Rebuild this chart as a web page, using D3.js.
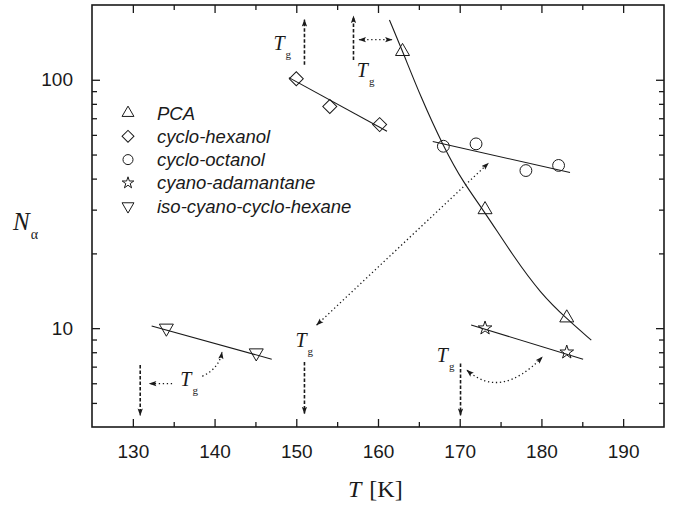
<!DOCTYPE html>
<html>
<head>
<meta charset="utf-8">
<script src="https://cdn.jsdelivr.net/npm/d3@7"></script>
<style>
body { margin: 0; background: #fff; }
</style>
</head>
<body>
<script>
var WIDTH = 677, HEIGHT = 507;
var LEFT = 92, RIGHT = 664, TOP = 5, BOTTOM = 427;
var INK = '#1a1a1a';

// measured points (T in K, N_alpha)
var pcaT = [163, 173.1, 183.1];
var pcaN = [130, 30, 11];
var hexanolT = [150, 154.1, 160.2];
var hexanolN = [101, 78, 66];
var octanolT = [168, 172, 178.1, 182.1];
var octanolN = [54, 55.2, 43.1, 45.2];
var adamT = [173.1, 183.1];
var adamN = [10, 8];
var isoT = [134.1, 145.1];
var isoN = [10, 7.95];

// fitted lines as drawn in the figure
var pcaFitT = [161.4, 163.1, 165.2, 168, 170.5, 172.9, 176.6, 179.9, 183.1, 186.1];
var pcaFitN = [174, 128, 85.7, 53.8, 38.3, 29.9, 19.4, 13.8, 10.9, 8.95];
var hexanolFitT = [149.1, 161.1];
var hexanolFitN = [102, 62];
var octanolFitT = [166.7, 183.5];
var octanolFitN = [56.4, 42.3];
var adamFitT = [171.4, 185.1];
var adamFitN = [10.3, 7.5];
var isoFitT = [132.3, 147];
var isoFitN = [10.2, 7.5];

var xTicks = [130, 140, 150, 160, 170, 180, 190];
var xMinorTicks = [135, 145, 155, 165, 175, 185];
var yTicks = [10, 100];
var yMinorTicks = [5, 6, 7, 8, 9, 20, 30, 40, 50, 60, 70, 80, 90];

var legendNames = ['PCA', 'cyclo-hexanol', 'cyclo-octanol', 'cyano-adamantane', 'iso-cyano-cyclo-hexane'];

// T_g annotations (label anchors and arrows, in data units)
var tgLabels = [[147.2, 132], [157.4, 103], [135.8, 5.85], [149.9, 8.41], [167.2, 7.31]];
var dashedArrows = [
    [[151, 115], [151, 174.5]],
    [[157, 120], [157, 180]],
    [[130.9, 7.1], [130.9, 4.46]],
    [[151, 7.31], [151, 4.53]],
    [[170.1, 7.2], [170.1, 4.46]]
];
var dottedArrows = [
    { pts: [[134.8, 5.98], [132.05, 5.98]], both: false },
    { pts: [[157.7, 145], [161.7, 145]], both: true },
    { pts: [[152.5, 10.3], [173.5, 46.1]], both: true },
    { pts: [[138.5, 6.4], [140.58, 6.9], [140.9, 8.0]], both: false },
    { pts: [[170.9, 6.77], [175, 5.13], [180.1, 7.65]], both: true }
];

var x = d3.scaleLinear().domain([125, 195]).range([LEFT, RIGHT]);
var y = d3.scaleLog().domain([4, 200]).range([BOTTOM, TOP]);

var svg = d3.select('body').append('svg').attr('width', WIDTH).attr('height', HEIGHT);

var defs = svg.append('defs');
defs.append('marker')
    .attr('id', 'head')
    .attr('viewBox', '0 -4 10 8')
    .attr('refX', 9).attr('refY', 0)
    .attr('markerWidth', 8).attr('markerHeight', 6)
    .attr('markerUnits', 'userSpaceOnUse')
    .attr('orient', 'auto-start-reverse')
    .append('path')
    .attr('d', 'M0,-3.5L10,0L0,3.5L2,0Z')
    .attr('fill', INK);

// axes: ticks pointing inward on all four sides
function drawAxis(axis, transform, labels) {
    var g = svg.append('g').attr('transform', transform).call(axis);
    g.select('.domain').remove();
    g.selectAll('line').attr('stroke', INK).attr('stroke-width', 1.3);
    g.selectAll('text')
        .attr('font-family', 'Liberation Sans, Arial, sans-serif')
        .attr('font-size', 19)
        .attr('fill', INK);
    if (!labels) g.selectAll('text').remove();
    return g;
}

var fmt = d3.format('d');
drawAxis(d3.axisBottom(x).tickValues(xTicks).tickSize(-8).tickPadding(18).tickFormat(fmt), 'translate(0,' + BOTTOM + ')', true);
drawAxis(d3.axisBottom(x).tickValues(xMinorTicks).tickSize(-5), 'translate(0,' + BOTTOM + ')', false);
drawAxis(d3.axisTop(x).tickValues(xTicks).tickSize(-8), 'translate(0,' + TOP + ')', false);
drawAxis(d3.axisTop(x).tickValues(xMinorTicks).tickSize(-5), 'translate(0,' + TOP + ')', false);
drawAxis(d3.axisLeft(y).tickValues(yTicks).tickSize(-8).tickPadding(19).tickFormat(fmt), 'translate(' + LEFT + ',0)', true);
drawAxis(d3.axisLeft(y).tickValues(yMinorTicks).tickSize(-5), 'translate(' + LEFT + ',0)', false);
drawAxis(d3.axisRight(y).tickValues(yTicks).tickSize(-8), 'translate(' + RIGHT + ',0)', false);
drawAxis(d3.axisRight(y).tickValues(yMinorTicks).tickSize(-5), 'translate(' + RIGHT + ',0)', false);

svg.append('rect')
    .attr('x', LEFT).attr('y', TOP)
    .attr('width', RIGHT - LEFT).attr('height', BOTTOM - TOP)
    .attr('fill', 'none').attr('stroke', INK).attr('stroke-width', 1.6);

// fit lines
var line = d3.line().x(d => x(d[0])).y(d => y(d[1]));
var fits = [
    [pcaFitT, pcaFitN, d3.curveBasis],
    [hexanolFitT, hexanolFitN, d3.curveLinear],
    [octanolFitT, octanolFitN, d3.curveLinear],
    [adamFitT, adamFitN, d3.curveLinear],
    [isoFitT, isoFitN, d3.curveLinear]
];
fits.forEach(function (f) {
    svg.append('path')
        .datum(d3.zip(f[0], f[1]))
        .attr('d', line.curve(f[2]))
        .attr('fill', 'none')
        .attr('stroke', INK)
        .attr('stroke-width', 1.1);
});

// markers
var symbols = [
    { type: d3.symbolTriangle, size: 85, rot: 0 },
    { type: d3.symbolSquare, size: 98, rot: 45 },
    { type: d3.symbolCircle, size: 110, rot: 0 },
    { type: d3.symbolStar, size: 58, rot: 0 },
    { type: d3.symbolTriangle, size: 85, rot: 180 }
];
var series = [[pcaT, pcaN], [hexanolT, hexanolN], [octanolT, octanolN], [adamT, adamN], [isoT, isoN]];

series.forEach(function (s, i) {
    var sym = symbols[i];
    svg.append('g').selectAll('path')
        .data(d3.zip(s[0], s[1]))
        .enter().append('path')
        .attr('d', d3.symbol().type(sym.type).size(sym.size))
        .attr('transform', d => 'translate(' + x(d[0]) + ',' + y(d[1]) + ') rotate(' + sym.rot + ')')
        .attr('fill', 'none')
        .attr('stroke', INK)
        .attr('stroke-width', 1);
});

// legend
var legend = svg.append('g').attr('transform', 'translate(128,113)');
legendNames.forEach(function (name, i) {
    var sym = symbols[i];
    legend.append('path')
        .attr('d', d3.symbol().type(sym.type).size(sym.size * 0.72))
        .attr('transform', 'translate(0,' + (i * 23.3) + ') rotate(' + sym.rot + ')')
        .attr('fill', 'none')
        .attr('stroke', INK)
        .attr('stroke-width', 1);
    legend.append('text')
        .attr('x', 29)
        .attr('y', i * 23.3 + 6.5)
        .attr('font-family', 'Liberation Sans, Arial, sans-serif')
        .attr('font-style', 'italic')
        .attr('font-size', 18.5)
        .attr('fill', INK)
        .text(name);
});

// T_g arrows
dashedArrows.forEach(function (a) {
    svg.append('path')
        .datum(a)
        .attr('d', line.curve(d3.curveLinear))
        .attr('fill', 'none')
        .attr('stroke', INK)
        .attr('stroke-width', 1.6)
        .attr('stroke-dasharray', '3.5,2')
        .attr('marker-end', 'url(#head)');
});

dottedArrows.forEach(function (a) {
    var p = a.pts.map(d => [x(d[0]), y(d[1])]);
    var d = p.length === 3
        ? 'M' + p[0] + 'Q' + p[1] + ' ' + p[2]
        : 'M' + p[0] + 'L' + p[1];
    var path = svg.append('path')
        .attr('d', d)
        .attr('fill', 'none')
        .attr('stroke', INK)
        .attr('stroke-width', 1.3)
        .attr('stroke-dasharray', '1.3,2.7')
        .attr('marker-end', 'url(#head)');
    if (a.both) path.attr('marker-start', 'url(#head)');
});

tgLabels.forEach(function (t) {
    var txt = svg.append('text')
        .attr('x', x(t[0]))
        .attr('y', y(t[1]))
        .attr('font-family', 'Liberation Serif, Times New Roman, serif')
        .attr('fill', INK);
    txt.append('tspan').attr('font-style', 'italic').attr('font-size', 20).text('T');
    txt.append('tspan').attr('font-size', 11).attr('dx', 1).attr('dy', 8).text('g');
});

// axis titles
var xt = svg.append('text')
    .attr('x', 348).attr('y', 497)
    .attr('font-family', 'Liberation Serif, Times New Roman, serif')
    .attr('font-size', 24)
    .attr('fill', INK);
xt.append('tspan').attr('font-style', 'italic').text('T');
xt.append('tspan').attr('dx', 8).text('[K]');

var yt = svg.append('text')
    .attr('x', 13).attr('y', 230)
    .attr('font-family', 'Liberation Serif, Times New Roman, serif')
    .attr('fill', INK);
yt.append('tspan').attr('font-style', 'italic').attr('font-size', 25).text('N');
yt.append('tspan').attr('font-size', 14).attr('dx', 1).attr('dy', 9).text('α');
</script>
</body>
</html>
